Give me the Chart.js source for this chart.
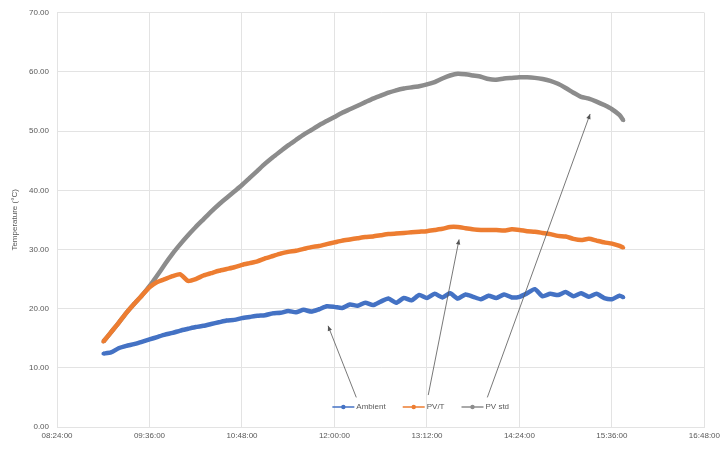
<!DOCTYPE html>
<html><head><meta charset="utf-8">
<script src="https://cdn.jsdelivr.net/npm/chart.js@4.4.1/dist/chart.umd.min.js"></script>
<style>html,body{margin:0;padding:0;background:#fff}#wrap{width:724px;height:453px}</style>
</head><body><div id="wrap"><canvas id="c" width="724" height="453"></canvas></div>
<script>
const times = ["09:00","09:06","09:12","09:18","09:24","09:30","09:36","09:42","09:48","09:54",
"10:00","10:06","10:12","10:18","10:24","10:30","10:36","10:42","10:48","10:54",
"11:00","11:06","11:12","11:18","11:24","11:30","11:36","11:42","11:48","11:54",
"12:00","12:06","12:12","12:18","12:24","12:30","12:36","12:42","12:48","12:54",
"13:00","13:06","13:12","13:18","13:24","13:30","13:36","13:42","13:48","13:54",
"14:00","14:06","14:12","14:18","14:24","14:30","14:36","14:42","14:48","14:54",
"15:00","15:06","15:12","15:18","15:24","15:30","15:36","15:42","15:45"];
const ambient = [12.4,12.6,13.3,13.7,14.0,14.4,14.8,15.2,15.6,15.9,
16.3,16.6,16.9,17.1,17.4,17.7,18.0,18.1,18.4,18.6,
18.8,18.9,19.2,19.3,19.6,19.4,19.8,19.5,19.9,20.4,
20.3,20.1,20.7,20.5,21.0,20.6,21.2,21.7,21.0,21.8,
21.4,22.3,21.8,22.5,21.9,22.6,21.7,22.4,22.0,21.6,
22.2,21.8,22.4,21.9,22.0,22.6,23.3,22.1,22.5,22.3,
22.8,22.1,22.6,22.0,22.5,21.8,21.6,22.2,21.9];
const pvt = [14.4,16.0,17.6,19.3,20.8,22.2,23.6,24.5,25.0,25.5,
25.8,24.7,25.0,25.6,26.0,26.4,26.7,27.0,27.4,27.7,
28.0,28.5,28.9,29.3,29.6,29.8,30.1,30.4,30.6,30.9,
31.2,31.5,31.7,31.9,32.1,32.2,32.4,32.6,32.7,32.8,
32.9,33.0,33.1,33.3,33.5,33.8,33.8,33.6,33.4,33.3,
33.3,33.3,33.2,33.4,33.3,33.1,33.0,32.8,32.6,32.3,
32.2,31.8,31.6,31.8,31.5,31.2,31.0,30.6,30.3];
const pvstd = [14.4,16.0,17.6,19.3,20.8,22.2,23.8,25.6,27.5,29.3,
30.9,32.4,33.8,35.1,36.4,37.6,38.7,39.8,40.9,42.1,
43.3,44.5,45.6,46.6,47.6,48.5,49.4,50.2,51.0,51.7,
52.4,53.1,53.7,54.3,54.9,55.5,56.0,56.5,56.9,57.2,
57.4,57.6,57.9,58.3,58.9,59.4,59.7,59.6,59.4,59.2,
58.8,58.7,58.9,59.0,59.1,59.1,59.0,58.8,58.5,58.0,
57.3,56.5,55.8,55.5,55.0,54.4,53.7,52.7,51.8];
const seriesNames = ["Ambient","PV/T","PV std"];
const seriesColors = ["#4472C4","#ED7D31","#8C8C8C"];
// arrow annotations: [time, value] for start and target
const arrowStart = [["12:17",5.0],["13:13",5.4],["13:59",5.0]];
const arrowEnd = [["11:55",17.1],["13:37",31.7],["15:19",52.9]];
const yTicks = {min:0,max:70,step:10};
const xTicks = {min:"08:24",max:"16:48",step:72};

const toMin = s => { const [h,m]=s.split(":").map(Number); return h*60+m; };
const fmt = v => { const h=Math.floor(v/60), m=Math.round(v%60); return String(h).padStart(2,"0")+":"+String(m).padStart(2,"0")+":00"; };
const mk = arr => arr.map((v,i)=>({x:toMin(times[i]),y:v}));
const allSeries=[ambient,pvt,pvstd];

const overlay = {
  id:"overlay",
  afterDatasetsDraw(chart){
    const ctx=chart.ctx, xs=chart.scales.x, ys=chart.scales.y, ca=chart.chartArea;
    ctx.save();
    ctx.strokeStyle="#555"; ctx.fillStyle="#555"; ctx.lineWidth=0.8;
    for(let i=0;i<3;i++){
      const x1=xs.getPixelForValue(toMin(arrowStart[i][0])), y1=ys.getPixelForValue(arrowStart[i][1]);
      const x2=xs.getPixelForValue(toMin(arrowEnd[i][0])), y2=ys.getPixelForValue(arrowEnd[i][1]);
      ctx.beginPath(); ctx.moveTo(x1,y1); ctx.lineTo(x2,y2); ctx.stroke();
      const a=Math.atan2(y2-y1,x2-x1), L=5, W=2.2;
      ctx.beginPath(); ctx.moveTo(x2,y2);
      ctx.lineTo(x2-L*Math.cos(a)+W*Math.sin(a), y2-L*Math.sin(a)-W*Math.cos(a));
      ctx.lineTo(x2-L*Math.cos(a)-W*Math.sin(a), y2-L*Math.sin(a)+W*Math.cos(a));
      ctx.closePath(); ctx.fill();
    }
    ctx.font="8px 'Liberation Sans', Arial, sans-serif"; ctx.textBaseline="middle";
    const ly=ca.bottom-20;
    const widths=seriesNames.map(n=>ctx.measureText(n).width);
    const seg=22, gap=2, sp=17;
    let total=0; widths.forEach(w=>total+=seg+gap+w); total+=sp*2;
    let x=(ca.left+ca.right)/2 + 40 - total/2;
    for(let i=0;i<3;i++){
      ctx.strokeStyle=seriesColors[i]; ctx.lineWidth=1.5;
      ctx.beginPath(); ctx.moveTo(x,ly); ctx.lineTo(x+seg,ly); ctx.stroke();
      ctx.fillStyle=seriesColors[i];
      ctx.beginPath(); ctx.arc(x+seg/2,ly,2.2,0,Math.PI*2); ctx.fill();
      ctx.fillStyle="#595959"; ctx.fillText(seriesNames[i],x+seg+gap,ly);
      x+=seg+gap+widths[i]+sp;
    }
    ctx.restore();
  }
};

new Chart(document.getElementById("c"),{
  type:"line",
  data:{datasets:allSeries.map((s,i)=>({label:seriesNames[i],data:mk(s),borderColor:seriesColors[i],backgroundColor:seriesColors[i],borderWidth:4.5,pointRadius:1.8,pointBorderWidth:0,tension:0.2}))},
  options:{
    responsive:false,animation:false,
    layout:{padding:{left:0,right:16,top:10,bottom:0}},
    plugins:{legend:{display:false},tooltip:{enabled:false}},
    scales:{
      x:{type:"linear",min:toMin(xTicks.min),max:toMin(xTicks.max),
        afterFit(s){s.height=26;},
        afterBuildTicks(s){const t=[];for(let v=toMin(xTicks.min);v<=toMin(xTicks.max);v+=xTicks.step)t.push({value:v});s.ticks=t;},
        ticks:{callback:v=>fmt(v),maxRotation:0,autoSkip:false,color:"#595959",font:{size:8,family:"'Liberation Sans', Arial"},padding:4},
        grid:{color:"#e3e3e3",drawTicks:false},border:{color:"#e3e3e3"}},
      y:{min:yTicks.min,max:yTicks.max,
        afterFit(s){s.width=57;},
        ticks:{stepSize:yTicks.step,callback:v=>v.toFixed(2),color:"#595959",font:{size:8,family:"'Liberation Sans', Arial"},padding:8},
        title:{display:true,text:"Temperature (°C)",color:"#595959",font:{size:8,family:"'Liberation Sans', Arial"},padding:{top:10,bottom:2}},
        grid:{color:"#e3e3e3",drawTicks:false},border:{color:"#e3e3e3"}}
    }
  },
  plugins:[overlay]
});
</script></body></html>
